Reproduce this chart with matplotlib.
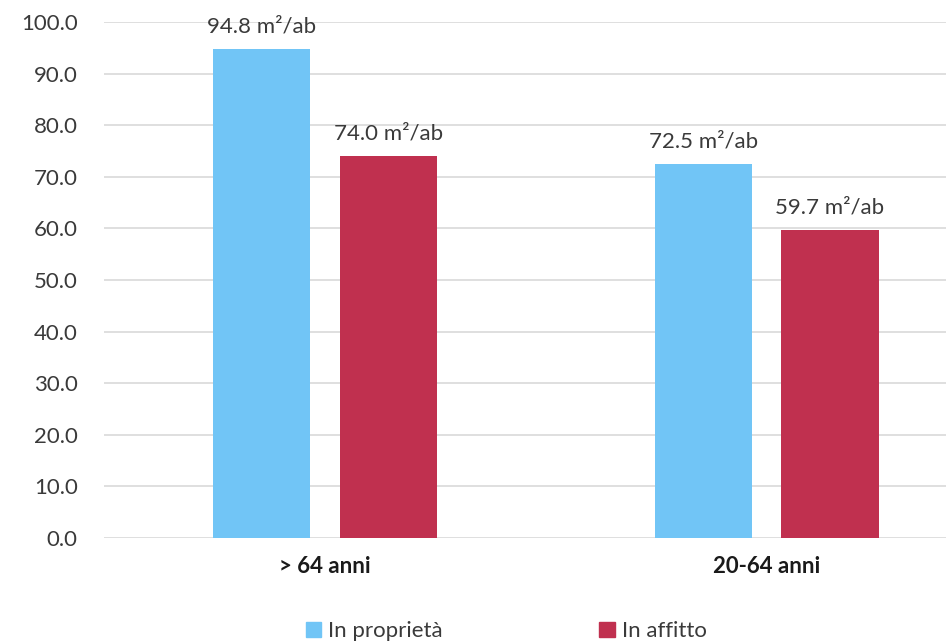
import numpy as np
import matplotlib.pyplot as plt
from matplotlib.patches import Patch

categories = ["> 64 anni", "20-64 anni"]
proprieta = [94.8, 72.5]
affitto = [74.0, 59.7]
series_names = ["In proprietà", "In affitto"]
y_ticks = [0, 10, 20, 30, 40, 50, 60, 70, 80, 90, 100]

BLUE = "#71C5F6"
RED = "#C0304F"
TXT = "#3a3a3a"

plt.rcParams['font.family'] = ['Lato', 'DejaVu Sans']

fig = plt.figure(figsize=(9.46, 6.44), dpi=100)
ax = fig.add_axes([0.110, 0.1646, 0.934, 0.8012])

x = np.arange(len(categories))
w = 0.22
off = 0.143
b1 = ax.bar(x - off, proprieta, w, color=BLUE, zorder=3)
b2 = ax.bar(x + off, affitto, w, color=RED, zorder=3)

for bars, vals in ((b1, proprieta), (b2, affitto)):
    for b, v in zip(bars, vals):
        ax.annotate(f"{v:.1f} m²/ab", (b.get_x() + b.get_width() / 2, v),
                    xytext=(0, 9), textcoords="offset points",
                    ha="center", va="bottom", fontsize=16, color=TXT)

ax.set_xlim(-0.5, 1.5)
ax.set_ylim(0, 100)
ax.set_yticks(y_ticks)
ax.set_yticklabels([f"{t:.1f}" for t in y_ticks])
ax.set_xticks(x)
ax.set_xticklabels(categories, fontweight="bold")
ax.yaxis.grid(True, color="#d9d9d9", linewidth=1.2, zorder=0)
for sp in ax.spines.values():
    sp.set_visible(False)
ax.tick_params(axis="y", length=0, labelsize=16, colors=TXT, pad=19)
ax.tick_params(axis="x", length=0, labelsize=16, colors="#1a1a1a", pad=13)

handles = [Patch(color=BLUE), Patch(color=RED)]
fig.legend(handles, series_names, loc="center", bbox_to_anchor=(0.535, 0.02),
           ncol=2, frameon=False, fontsize=16, handlelength=0.7, handleheight=0.7,
           handletextpad=0.3, columnspacing=7.05, labelcolor=TXT)

fig.savefig("out.png", dpi=100)
